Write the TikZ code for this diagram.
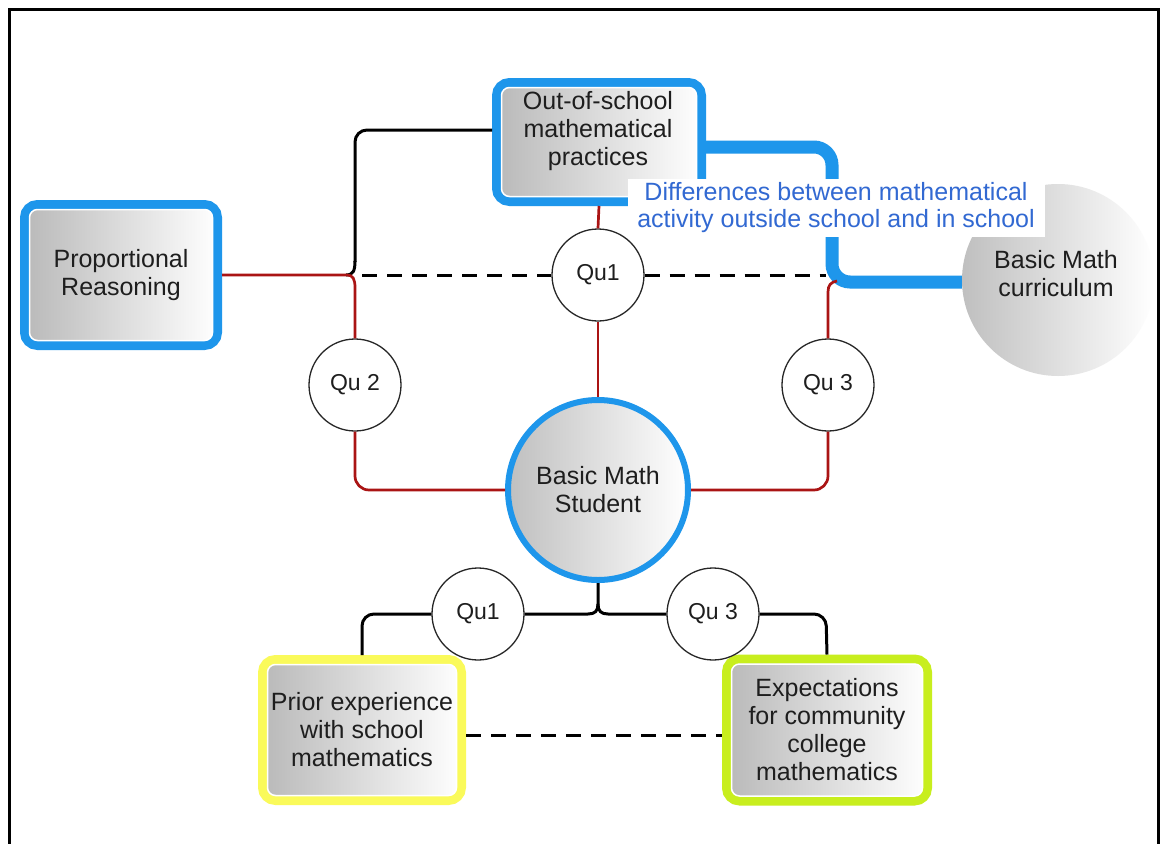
\documentclass[tikz,border=0pt]{standalone}
\usepackage{fontspec}
\setmainfont{Liberation Sans}
\definecolor{myblue}{RGB}{30,150,235}
\definecolor{txtblue}{RGB}{50,105,210}
\definecolor{myred}{RGB}{170,20,20}
\definecolor{myyellow}{RGB}{250,250,90}
\definecolor{mygreen}{RGB}{200,238,30}
\definecolor{txtgray}{RGB}{30,30,30}
\begin{document}
\begin{tikzpicture}[x=1pt,y=-1pt,
  boxnode/.style={rounded corners=13pt, line width=9pt, left color=gray!55, right color=white,
    inner sep=0pt, align=center, text=txtgray, font=\fontsize{25}{28}\selectfont},
  innerline/.style={draw=white, line width=1.5pt, rounded corners=8pt},
  bigcircle/.style={circle, inner sep=0pt, left color=gray!50, right color=white, align=center,
    text=txtgray, font=\fontsize{25}{28}\selectfont},
  qnode/.style={circle, draw=gray!30!black, line width=1.3pt, fill=white, minimum size=92pt,
    inner sep=0pt, text=txtgray, font=\fontsize{23}{27}\selectfont},
  boxtext/.style={align=center, text=txtgray, font=\fontsize{25}{28}\selectfont},
  redline/.style={draw=myred, line width=2.7pt},
  blackline/.style={draw=black, line width=3pt},
  dashline/.style={draw=black, line width=3pt, dash pattern=on 15pt off 10pt},
  blueline/.style={draw=myblue, line width=13pt}
]
\useasboundingbox (0,0) rectangle (1163,844);
\fill[white] (0,0) rectangle (1163,844);
\draw[line width=3pt] (9,850) -- (9,9) -- (1158,9) -- (1158,850);

% nodes
\node[boxnode, draw=myblue, minimum width=193pt, minimum height=141pt] (pr) at (121,275) {};
\node[boxnode, draw=myblue, minimum width=205pt, minimum height=119pt] (oos) at (599,142) {};
\node[bigcircle, minimum size=192pt] (cur) at (1058,280) {};
\node[bigcircle, draw=myblue, line width=6pt, minimum size=180pt] (stu) at (598,490) {};
\node[boxnode, draw=myyellow, minimum width=199pt, minimum height=141pt] (prior) at (362,730) {};
\node[boxnode, draw=mygreen, minimum width=201pt, minimum height=142pt] (exp) at (827,730) {};

% thin white inner rims of the boxes
\foreach \b in {pr,oos,prior,exp}{
  \draw[innerline] ([shift={(9.5pt,9.5pt)}]\b.south west) rectangle ([shift={(-9.5pt,-9.5pt)}]\b.north east);
}

\node[qnode] (q1) at (598,275) {Qu1};
\node[qnode] (q2) at (355,385) {Qu 2};
\node[qnode] (q3) at (828,385) {Qu 3};
\node[qnode] (bq1) at (478,614) {Qu1};
\node[qnode] (bq3) at (713,614) {Qu 3};

% texts
\node[boxtext] (prt) at (pr.center) {Proportional\\Reasoning};
\node[boxtext] (oost) at (598,131) {Out-of-school\\mathematical\\practices};
\node[boxtext] (curt) at (1056,274) {Basic Math\\curriculum};
\node[boxtext] (stut) at (stu.center) {Basic Math\\Student};
\node[boxtext] (priort) at (prior.center) {Prior experience\\with school\\mathematics};
\node[boxtext] (expt) at (exp.center) {Expectations\\for community\\college\\mathematics};

% blue connector
\draw[blueline, rounded corners=18pt] (oos.east |- 0,147) -- (832,147) -- (832,282) -- (cur.west |- 0,282);

% top-left connectors
\draw[blackline, rounded corners=12pt] (oos.west |- 0,130) -- (355,130) -- (355,262);
\draw[blackline] (355,261) .. controls (355,271) and (353,275) .. (346,275);
\draw[redline] (pr.east |- 0,275) -- (347,275) .. controls (353,275) and (355,279) .. (355,288) -- (q2.north);
\draw[redline, rounded corners=14pt] (q2.south) -- (355,490) -- (stu.west);
\draw[dashline] (362,275) -- (q1.west);
\draw[dashline] (q1.east) -- (826,275);
\draw[redline] (oos.south) -- (q1.north);
\draw[redline] (q1.south) -- (stu.north);
\draw[redline, rounded corners=14pt] (stu.east) -- (828,490) -- (q3.south);
\draw[redline] (q3.north) -- (828,292) .. controls (828,285) and (831,282) .. (837,281);

% bottom connectors
\draw[blackline] (stu.south) -- (598,604) .. controls (598,611) and (595,614) .. (588,614) -- (bq1.east);
\draw[blackline] (598,604) .. controls (598,611) and (601,614) .. (608,614) -- (bq3.west);
\draw[blackline, rounded corners=12pt] (bq1.west) -- (362,614) -- (prior.north);
\draw[blackline, rounded corners=12pt] (bq3.east) -- (826,614) -- (exp.north);
\draw[dashline] (prior.east |- 0,735) -- (exp.west |- 0,735);

% label
\node[fill=white, inner sep=4pt, align=center, text=txtblue, font=\fontsize{25}{27}\selectfont,
  minimum width=417pt, minimum height=57pt] (lbl) at (836,208)
  {Differences between mathematical\\activity outside school and in school};
\end{tikzpicture}
\end{document}
